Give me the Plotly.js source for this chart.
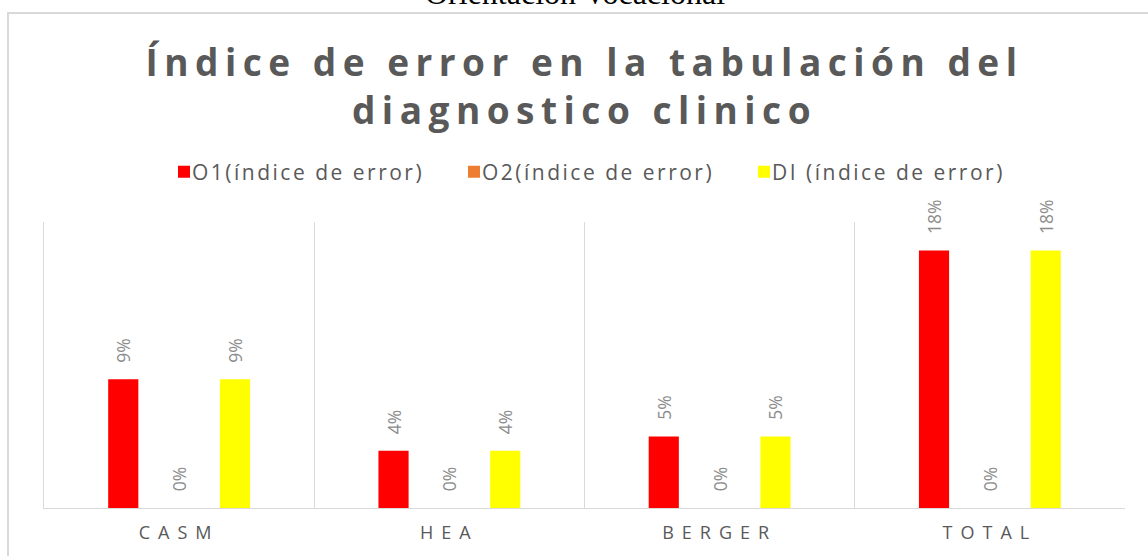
<!DOCTYPE html>
<html>
<head>
<meta charset="utf-8">
<script src="https://cdn.plot.ly/plotly-3.0.1.min.js"></script>
<style>
  html, body { margin: 0; padding: 0; background: #ffffff; overflow: hidden; }
  #wrap { position: relative; width: 1148px; height: 556px; }
  #chart { position: absolute; left: 0; top: 0; width: 1148px; height: 556px; }
  #frame { position: absolute; left: 7px; top: 12px; width: 1300px; height: 700px;
           border: 2px solid #d9d9d9; pointer-events: none; box-sizing: border-box; }
  .gtitle { letter-spacing: 6.5px; }
  .xtick text { letter-spacing: 8px; }
  .legendtext { letter-spacing: 2.5px; transform: translateX(-12px); }
</style>
</head>
<body>
<div id="wrap">
  <div id="frame"></div>
  <div id="chart"></div>
</div>
<script>
// ---- data ----
const categories = ["CASM", "HEA", "BERGER", "TOTAL"];
const seriesNames = ["O1(índice de error)", "O2(índice de error)", "DI (índice de error)"];
const o1Values = [0.09, 0.04, 0.05, 0.18];
const o2Values = [0, 0, 0, 0];
const diValues = [0.09, 0.04, 0.05, 0.18];
const seriesColors = ["#ff0000", "#ed7d31", "#ffff00"];
const chartTitle = "Índice de error en la tabulación del<br>diagnostico clinico";
const headerText = "Orientación Vocacional";

const labelFont = { family: "Open Sans, sans-serif", size: 17.5, color: "#8c8c8c" };
const pad = "\u00a0\u00a0\u00a0";

function mk(name, vals, color) {
  return {
    type: "bar",
    name: name,
    x: categories,
    y: vals,
    marker: { color: color, line: { width: 0 } },
    texttemplate: pad + "%{y:.0%}",
    textposition: "outside",
    textangle: -90,
    textfont: labelFont,
    constraintext: "none",
    cliponaxis: false,
    hoverinfo: "x+y+name"
  };
}

const data = [
  mk(seriesNames[0], o1Values, seriesColors[0]),
  mk(seriesNames[1], o2Values, seriesColors[1]),
  mk(seriesNames[2], diValues, seriesColors[2])
];

const layout = {
  width: 1148,
  height: 556,
  margin: { l: 44, r: 23, t: 222, b: 48, pad: 0 },
  paper_bgcolor: "rgba(0,0,0,0)",
  plot_bgcolor: "rgba(0,0,0,0)",
  barmode: "group",
  bargap: 0.38,
  bargroupgap: 0.46,
  showlegend: true,
  title: {
    text: chartTitle,
    x: 0.5,
    xref: "paper",
    xanchor: "center",
    y: 1 - 76 / 556,
    yref: "container",
    yanchor: "middle",
    font: { family: "Open Sans, sans-serif", size: 37, color: "#595959", weight: "bold" }
  },
  legend: {
    orientation: "h",
    xref: "paper",
    yref: "paper",
    x: (164 - 44) / 1081,
    xanchor: "left",
    y: (508 - 172) / 286,
    yanchor: "middle",
    entrywidth: 245,
    entrywidthmode: "pixels",
    font: { family: "Open Sans, sans-serif", size: 21, color: "#595959" },
    bgcolor: "rgba(0,0,0,0)",
    traceorder: "normal"
  },
  xaxis: {
    type: "category",
    tickson: "boundaries",
    showgrid: true,
    gridcolor: "#d9d9d9",
    gridwidth: 1,
    showline: true,
    linecolor: "#d9d9d9",
    linewidth: 1,
    ticks: "",
    tickfont: { family: "Open Sans, sans-serif", size: 18, color: "#595959" },
    ticklabelstandoff: 8,
    zeroline: false,
    fixedrange: true
  },
  yaxis: {
    range: [0, 0.2],
    showgrid: false,
    zeroline: false,
    showticklabels: false,
    ticks: "",
    showline: true,
    linecolor: "#d9d9d9",
    linewidth: 1,
    fixedrange: true
  },
  annotations: [{
    text: headerText,
    xref: "paper",
    yref: "paper",
    x: (575 - 44) / 1081,
    xanchor: "center",
    y: (508 + 7) / 286,
    yanchor: "middle",
    showarrow: false,
    font: { family: "Liberation Serif, Times New Roman, serif", size: 32, color: "#000000" }
  }]
};

Plotly.newPlot("chart", data, layout, { displayModeBar: false, staticPlot: true });
</script>
</body>
</html>
